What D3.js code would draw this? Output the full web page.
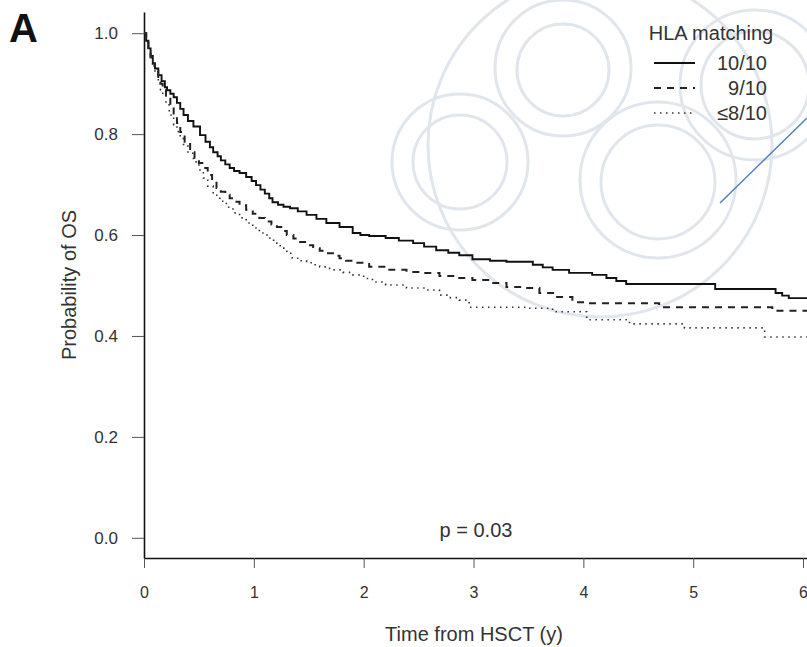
<!DOCTYPE html>
<html>
<head>
<meta charset="utf-8">
<script src="https://cdn.jsdelivr.net/npm/d3@7"></script>
<style>
  body { margin: 0; background: #fff; }
  svg { font-family: "Liberation Sans", Arial, sans-serif; }
</style>
</head>
<body>
<div id="chart"></div>
<script>
// survival curves (time in years, probability of OS)
const t10 = [0, 0.02, 0.04, 0.06, 0.08, 0.10, 0.13, 0.16, 0.19, 0.21, 0.24, 0.27, 0.30, 0.33, 0.36, 0.40, 0.45, 0.51, 0.56, 0.60, 0.63, 0.67, 0.70, 0.74, 0.78, 0.82, 0.87, 0.93, 0.98, 1.02, 1.06, 1.10, 1.14, 1.17, 1.22, 1.27, 1.33, 1.40, 1.48, 1.57, 1.66, 1.78, 1.9, 1.97, 2.05, 2.2, 2.32, 2.45, 2.55, 2.66, 2.77, 2.87, 2.99, 3.15, 3.3, 3.54, 3.63, 3.72, 3.87, 4.08, 4.21, 4.3, 4.39, 5.2, 5.75, 5.81, 5.87, 6.04];
const s10 = [1, 0.985, 0.97, 0.955, 0.94, 0.93, 0.917, 0.905, 0.893, 0.887, 0.88, 0.873, 0.862, 0.85, 0.838, 0.826, 0.815, 0.798, 0.785, 0.774, 0.764, 0.756, 0.748, 0.74, 0.733, 0.727, 0.723, 0.715, 0.707, 0.699, 0.69, 0.682, 0.673, 0.665, 0.66, 0.656, 0.653, 0.647, 0.640, 0.632, 0.624, 0.616, 0.604, 0.600, 0.598, 0.594, 0.589, 0.584, 0.577, 0.570, 0.565, 0.560, 0.552, 0.549, 0.547, 0.541, 0.536, 0.531, 0.525, 0.521, 0.515, 0.509, 0.503, 0.493, 0.485, 0.480, 0.475, 0.475];

const t9 = [0, 0.02, 0.04, 0.06, 0.08, 0.10, 0.13, 0.15, 0.17, 0.20, 0.24, 0.27, 0.30, 0.33, 0.37, 0.42, 0.46, 0.50, 0.54, 0.58, 0.62, 0.66, 0.70, 0.74, 0.78, 0.82, 0.87, 0.93, 0.99, 1.05, 1.10, 1.16, 1.21, 1.26, 1.30, 1.36, 1.42, 1.48, 1.54, 1.60, 1.66, 1.72, 1.78, 1.84, 1.9, 2.05, 2.2, 2.39, 2.54, 2.69, 2.85, 2.99, 3.15, 3.3, 3.45, 3.6, 3.75, 3.9, 4.03, 4.69, 5.72, 6.04];
const s9 = [1, 0.983, 0.966, 0.952, 0.94, 0.925, 0.91, 0.90, 0.891, 0.872, 0.853, 0.838, 0.822, 0.804, 0.785, 0.764, 0.753, 0.743, 0.733, 0.719, 0.706, 0.693, 0.686, 0.68, 0.673, 0.666, 0.659, 0.650, 0.642, 0.634, 0.627, 0.621, 0.616, 0.608, 0.600, 0.593, 0.586, 0.580, 0.574, 0.569, 0.564, 0.559, 0.554, 0.549, 0.545, 0.537, 0.531, 0.527, 0.525, 0.519, 0.515, 0.511, 0.505, 0.497, 0.495, 0.485, 0.477, 0.467, 0.465, 0.457, 0.450, 0.450];

const t8 = [0, 0.02, 0.04, 0.06, 0.08, 0.10, 0.13, 0.15, 0.17, 0.20, 0.23, 0.27, 0.30, 0.33, 0.36, 0.40, 0.45, 0.50, 0.54, 0.58, 0.63, 0.69, 0.75, 0.81, 0.87, 0.93, 0.99, 1.05, 1.12, 1.18, 1.24, 1.30, 1.35, 1.41, 1.48, 1.54, 1.6, 1.66, 1.72, 1.81, 1.9, 2.0, 2.08, 2.2, 2.39, 2.57, 2.69, 2.78, 2.87, 2.96, 3.48, 3.72, 4.03, 4.42, 4.92, 5.65, 6.04];
const s8 = [1, 0.982, 0.965, 0.95, 0.935, 0.92, 0.90, 0.888, 0.877, 0.858, 0.838, 0.818, 0.805, 0.791, 0.778, 0.762, 0.745, 0.729, 0.713, 0.697, 0.679, 0.667, 0.655, 0.644, 0.634, 0.624, 0.614, 0.604, 0.594, 0.584, 0.574, 0.564, 0.554, 0.549, 0.545, 0.541, 0.537, 0.534, 0.531, 0.526, 0.521, 0.514, 0.507, 0.501, 0.495, 0.491, 0.481, 0.476, 0.471, 0.457, 0.455, 0.448, 0.432, 0.424, 0.416, 0.398, 0.398];

const groups = ["10/10", "9/10", "\u22648/10"];
const xTicks = [0, 1, 2, 3, 4, 5, 6];
const yTicks = [0, 0.2, 0.4, 0.6, 0.8, 1.0];

const width = 807, height = 647;

const svg = d3.select("#chart")
  .append("svg")
  .attr("width", width)
  .attr("height", height);

// faint watermark behind the chart
const wm = svg.append("g")
  .attr("fill", "none")
  .attr("stroke", "#e0e6ec")
  .attr("stroke-width", 3);
[[600, 145, 172], [563, 68, 68], [563, 70, 46], [460, 162, 68], [460, 162, 47],
 [658, 180, 78], [658, 182, 57], [755, 85, 75], [755, 85, 54]].forEach(c => {
  wm.append("circle").attr("cx", c[0]).attr("cy", c[1]).attr("r", c[2]);
});
svg.append("line")
  .attr("x1", 720).attr("y1", 203)
  .attr("x2", 807).attr("y2", 118)
  .attr("stroke", "#4f81bd")
  .attr("stroke-width", 1.5);

const x = d3.scaleLinear().domain([0, 6.036]).range([144, 807]);
const y = d3.scaleLinear().domain([-0.04, 1.042]).range([558, 12]);

// axes
const yAxis = svg.append("g")
  .attr("transform", "translate(144,0)")
  .call(d3.axisLeft(y).tickValues(yTicks).tickFormat(d3.format(".1f"))
    .tickSize(12).tickSizeOuter(0).tickPadding(14));
yAxis.select(".domain").attr("stroke", "#111").attr("stroke-width", 1.6);
yAxis.selectAll(".tick line").attr("stroke", "#555");
yAxis.selectAll(".tick text").attr("font-size", 17).attr("fill", "#333");

const xAxis = svg.append("g")
  .attr("transform", "translate(0,558)")
  .call(d3.axisBottom(x).tickValues(xTicks).tickFormat(d3.format("d"))
    .tickSize(10).tickSizeOuter(0).tickPadding(19));
xAxis.select(".domain").attr("stroke", "#111").attr("stroke-width", 1.6);
xAxis.selectAll(".tick line").attr("stroke", "#555");
xAxis.selectAll(".tick text").attr("font-size", 16).attr("fill", "#333");

// curves
const line = d3.line()
  .x(d => x(d[0]))
  .y(d => y(d[1]))
  .curve(d3.curveStepAfter);

const series = [
  { t: t10, s: s10, dash: null, w: 1.9, color: "#111" },
  { t: t9, s: s9, dash: "7,6", w: 2, color: "#222" },
  { t: t8, s: s8, dash: "1.5,4.5", w: 1.6, color: "#333" }
];

series.forEach(sr => {
  svg.append("path")
    .datum(sr.t.map((t, i) => [t, sr.s[i]]))
    .attr("d", line)
    .attr("fill", "none")
    .attr("stroke", sr.color)
    .attr("stroke-width", sr.w)
    .attr("stroke-dasharray", sr.dash);
});

// legend
const legend = svg.append("g");
legend.append("text")
  .attr("x", 711).attr("y", 40)
  .attr("text-anchor", "middle")
  .attr("font-size", 20)
  .attr("fill", "#333")
  .text("HLA matching");

groups.forEach((g, i) => {
  const ly = 63 + i * 25;
  legend.append("line")
    .attr("x1", 654).attr("x2", 695)
    .attr("y1", ly).attr("y2", ly)
    .attr("stroke", series[i].color)
    .attr("stroke-width", series[i].w)
    .attr("stroke-dasharray", series[i].dash);
  legend.append("text")
    .attr("x", 767).attr("y", ly + 7)
    .attr("text-anchor", "end")
    .attr("font-size", 20)
    .attr("fill", "#333")
    .text(g);
});

// annotations
svg.append("text")
  .attr("x", 476).attr("y", 537)
  .attr("text-anchor", "middle")
  .attr("font-size", 20)
  .attr("fill", "#333")
  .text("p = 0.03");

svg.append("text")
  .attr("x", 474).attr("y", 641)
  .attr("text-anchor", "middle")
  .attr("font-size", 20)
  .attr("fill", "#333")
  .text("Time from HSCT (y)");

svg.append("text")
  .attr("transform", "translate(76,285) rotate(-90)")
  .attr("text-anchor", "middle")
  .attr("font-size", 20)
  .attr("fill", "#333")
  .text("Probability of OS");

svg.append("text")
  .attr("x", 9).attr("y", 42)
  .attr("font-size", 40)
  .attr("font-weight", "bold")
  .attr("fill", "#111")
  .text("A");
</script>
</body>
</html>
